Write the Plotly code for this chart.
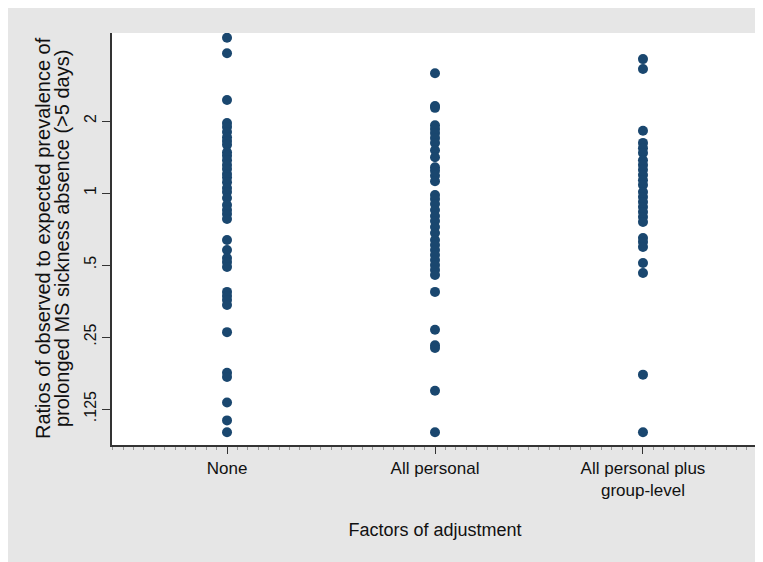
import plotly.graph_objects as go

categories = ["None", "All personal", "All personal plus<br>group-level"]

none_vals = [4.46, 3.84, 2.45, 1.96, 1.89, 1.80, 1.71, 1.65, 1.59, 1.48, 1.43, 1.37,
             1.31, 1.26, 1.20, 1.16, 1.11, 1.05, 1.01, 0.953, 0.891, 0.849, 0.817,
             0.779, 0.636, 0.578, 0.535, 0.515, 0.491, 0.386, 0.371, 0.357, 0.340,
             0.262, 0.177, 0.170, 0.133, 0.112, 0.100]
personal_vals = [3.17, 2.31, 2.27, 1.92, 1.85, 1.78, 1.70, 1.62, 1.51, 1.41, 1.28, 1.24,
                 1.18, 1.12, 0.981, 0.944, 0.899, 0.849, 0.801, 0.764, 0.721, 0.680,
                 0.636, 0.606, 0.578, 0.551, 0.525, 0.500, 0.477, 0.454, 0.386, 0.268,
                 0.231, 0.225, 0.149, 0.100]
group_vals = [3.63, 3.30, 1.82, 1.62, 1.54, 1.47, 1.37, 1.31, 1.25, 1.19, 1.13, 1.08,
              1.01, 0.962, 0.917, 0.874, 0.833, 0.794, 0.756, 0.648, 0.624, 0.595,
              0.510, 0.463, 0.174, 0.100]

ytick_vals = [0.125, 0.25, 0.5, 1, 2]
ytick_text = [".125", ".25", ".5", "1", "2"]

ytitle_lines = ["Ratios of observed to expected prevalence of",
                "prolonged MS sickness absence (>5 days)"]
xtitle = "Factors of adjustment"

series = [none_vals, personal_vals, group_vals]
xs, ys = [], []
for i, vals in enumerate(series):
    xs += [i + 1] * len(vals)
    ys += vals

fig = go.Figure()
fig.add_trace(go.Scatter(
    x=xs, y=ys, mode="markers",
    marker=dict(color="#1a476f", size=10, line=dict(width=0)),
    showlegend=False, hoverinfo="skip"))

font = "Liberation Sans, Arial, sans-serif"
fig.update_layout(
    width=763, height=562,
    margin=dict(l=104, r=13, t=25, b=125),
    paper_bgcolor="#e6e6e6", plot_bgcolor="white",
    font=dict(family=font, color="#111111", size=15),
    xaxis=dict(
        range=[0.447, 3.553], tickvals=[1, 2, 3], ticktext=categories,
        ticks="outside", ticklen=7, tickcolor="#333333", tickwidth=1,
        showline=True, linecolor="#333333", linewidth=1.5, showgrid=False,
        zeroline=False, tickfont=dict(size=17),
        minor=dict(dtick=0.05, tick0=0, ticks="outside", ticklen=3,
                   tickcolor="#999999", showgrid=False),
        title=dict(text=xtitle, font=dict(size=18), standoff=24),
    ),
    yaxis=dict(
        type="log", range=[-1.0536, 0.6690],
        tickvals=ytick_vals, ticktext=ytick_text, tickangle=-90,
        ticks="outside", ticklen=8, tickcolor="#333333", tickwidth=1,
        showline=True, linecolor="#333333", linewidth=1.5, showgrid=False,
        zeroline=False, tickfont=dict(size=16),
    ),
    annotations=[
        dict(text=ytitle_lines[0], xref="paper", yref="paper", x=-0.107, y=0.502,
             xanchor="center", yanchor="middle", textangle=-90, showarrow=False,
             font=dict(size=20)),
        dict(text=ytitle_lines[1], xref="paper", yref="paper", x=-0.0775, y=0.502,
             xanchor="center", yanchor="middle", textangle=-90, showarrow=False,
             font=dict(size=20)),
    ],
)

fig.write_html("out.html")
